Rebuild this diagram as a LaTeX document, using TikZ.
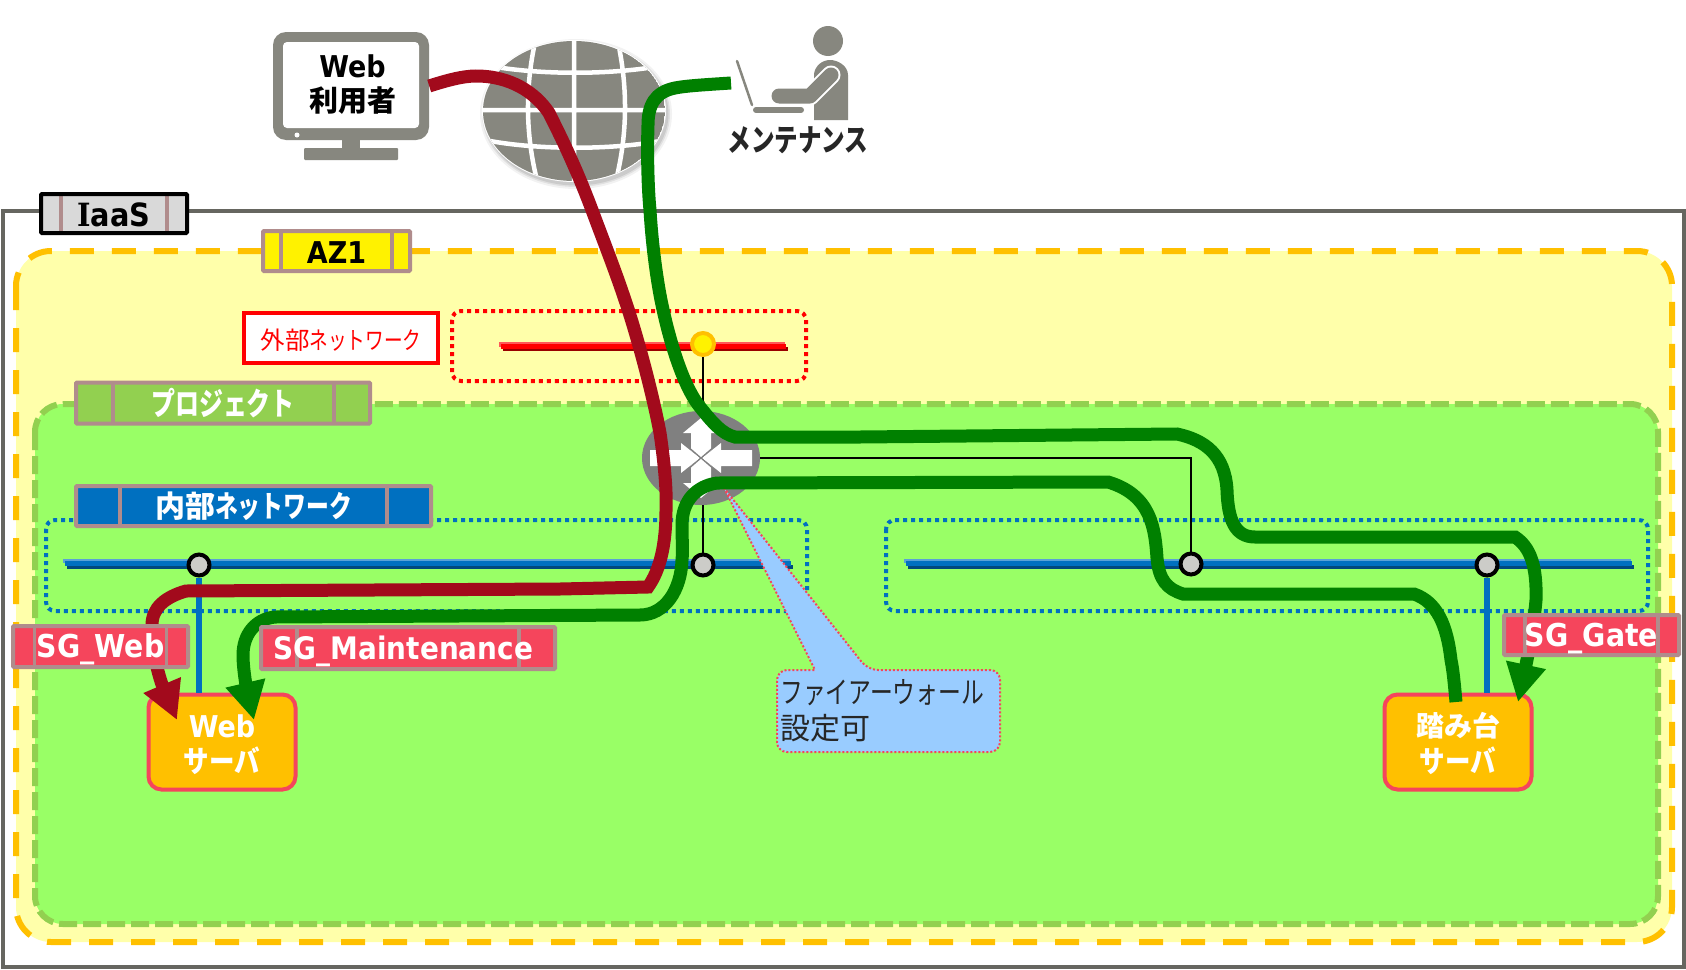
\documentclass[tikz,border=0pt]{standalone}
\usepackage{fontspec}
\setmainfont{DejaVu Sans}[FakeStretch=0.9]
\newfontfamily\slabf{DejaVu Serif}[FakeStretch=0.9]
\newfontfamily\jpf{Noto Sans CJK JP}
\newfontfamily\kanaf{Noto Sans CJK JP}[FakeStretch=0.76]
\newfontfamily\srvf{Noto Sans CJK JP}[FakeStretch=0.85]
\newcommand{\kj}[1]{{\jpf #1}}
\newcommand{\kn}[1]{{\kanaf #1}}
\newcommand{\fsz}[2]{\fontsize{#1}{#2}\selectfont}
\newcommand{\dropby}[2]{\raisebox{-#1pt}[\height][\depth]{#2}}
\usetikzlibrary{shapes.geometric,arrows.meta,calc}
\definecolor{frameGray}{HTML}{666660}
\definecolor{iconGray}{HTML}{87877F}
\definecolor{azFill}{HTML}{FFFFAA}
\definecolor{azLine}{HTML}{FFC000}
\definecolor{prjFill}{HTML}{99FF66}
\definecolor{prjLine}{HTML}{92D050}
\definecolor{tagLine}{HTML}{B08C8C}
\definecolor{netBlue}{HTML}{0070C0}
\definecolor{sgRed}{HTML}{F5455C}
\definecolor{webRed}{HTML}{A20A1C}
\definecolor{mntGreen}{HTML}{008000}
\definecolor{noteBlue}{HTML}{99CCFF}
\definecolor{portGray}{HTML}{CCCCC8}
\tikzset{
  x=1pt,y=-1pt,
  tagbox/.style n args={3}{draw=tagLine,line width=4pt,fill=#1,inner sep=0pt,rounded corners=1pt,
    path picture={
      \draw[tagLine,line width=3.5pt] ([xshift=#2]path picture bounding box.north west) -- ([xshift=#2]path picture bounding box.south west);
      \draw[tagLine,line width=3.5pt] ([xshift=-#3]path picture bounding box.north east) -- ([xshift=-#3]path picture bounding box.south east);
    }},
  labeltext/.style={font=\bfseries\fsz{30}{35},text=white},
  sgtext/.style={font=\bfseries\fsz{31.5}{35},text=white},
  portnode/.style={circle,draw=black,line width=4pt,fill=portGray,minimum size=21pt,inner sep=0pt},
  server/.style={draw=sgRed,line width=4pt,fill=azLine,rounded corners=13pt,minimum width=147pt,minimum height=95pt,
    inner sep=0pt,align=center,font=\bfseries\fsz{30}{35},text=white},
  netzone/.style={line width=4pt,dash pattern=on 4pt off 4pt,rounded corners=9pt},
  webflow/.style={draw=webRed,line width=13pt,-{Triangle[length=38pt,width=38pt]}},
  mntflow/.style={draw=mntGreen,line width=13pt,-{Triangle[length=38pt,width=38pt]}},
  wire/.style={draw=black,line width=1.6pt},
  stub/.style={draw=netBlue,line width=6pt},
}
\begin{document}
\begin{tikzpicture}
\useasboundingbox (0,0) rectangle (1686,969);
\fill[white] (0,0) rectangle (1686,969);

% nested regions
\draw[frameGray,line width=4pt] (3,211) rectangle (1684,967);
\draw[azLine,fill=azFill,line width=6pt,dash pattern=on 24pt off 18pt,rounded corners=35pt] (16,251) rectangle (1672,942);
\draw[prjLine,fill=prjFill,line width=6pt,dash pattern=on 18pt off 6pt,rounded corners=28pt] (35,404) rectangle (1658,924);

% network zones
\draw[netzone,red] (452,311) rectangle (806,381);
\draw[netzone,netBlue] (46,520) rectangle (807,611);
\draw[netzone,netBlue] (886,520) rectangle (1648,611);

% external network bar
\fill[red!65!white] (499,342) rectangle (785,347);
\fill[red!60!black] (503,347) rectangle (788,351);
\fill[red] (501,344.3) rectangle (786,349);

% internal network bars
\foreach \xa/\xb in {63/790,904/1631}{
  \fill[netBlue!65!white] (\xa,559) rectangle (\xb,563);
  \fill[netBlue!65!black] (\xa+4,565) rectangle (\xb+3,569);
  \fill[netBlue] (\xa+2,561) rectangle (\xb+1,566);
}

% globe
\foreach \grow/\op in {5/.05,3/.07,1.5/.09}{
  \fill[black,opacity=\op] (576,114) ellipse ({91+\grow} and {70+\grow});
}
\fill[white] (574,111) ellipse (92 and 71);
\begin{scope}
  \clip (574,111) ellipse (91 and 70);
  \fill[iconGray] (574,111) ellipse (91 and 70);
  \draw[white,line width=4.5pt]
    (536,38) .. controls (525,85) and (525,135) .. (538,184)
    (574,35) -- (574,187)
    (617,38) .. controls (628,85) and (628,135) .. (615,184)
    (490,66) .. controls (540,75) and (610,75) .. (660,66)
    (480,110) -- (670,110)
    (490,141) .. controls (540,150) and (610,150) .. (660,141);
\end{scope}

% monitor with its label
\fill[iconGray] (342,140) rectangle (360,150);
\fill[iconGray,rounded corners=1pt] (304,148) rectangle (398,160);
\node[fill=iconGray,rounded corners=13pt,minimum width=156pt,minimum height=108pt,inner sep=0pt] (mon) at (351,86) {};
\node[fill=white,rounded corners=4pt,minimum width=136pt,minimum height=86pt,inner sep=0pt,align=center,
      font=\bfseries\fsz{30}{34}] (monscreen) at (351,85) {\kern3pt Web\\\kern3pt\kj{\fsz{29}{34}利用者}};
\fill[white] (297,135) circle (2.5);

% maintenance operator
\fill[iconGray] (828,41) circle (15);
\fill[iconGray] (814,98) -- (814,120) -- (848,120) -- (848,75) .. controls (848,66) and (838,60) .. (830,60) .. controls (822,60) and (815,66) .. (814,74) -- cycle;
\draw[white,line width=19pt,line cap=round,line join=round] (831,75) -- (810,96) -- (779,96);
\draw[iconGray,line width=15pt,line cap=round,line join=round] (831,75) -- (810,96) -- (779,96);
\draw[iconGray,line width=2.5pt,line cap=round] (737,61) -- (752,105);
\draw[iconGray,line width=6pt,line cap=round] (756,110) -- (801,110);
\node[font=\bfseries\fsz{31}{34},text=black!85] (mntlabel) at (798,140) {\kn{メンテナンス}};

% router
\node[ellipse,fill=gray,minimum width=118pt,minimum height=94pt,inner sep=0pt] (router) at (701,458) {};
\begin{scope}[shift={(router.center)}]
  \fill[white] (0,-40) -- (18,-25) -- (10,-25) -- (10,-8) -- (0,0) -- (-10,-8) -- (-10,-25) -- (-18,-25) -- cycle;
  \fill[white] (0,40) -- (18,25) -- (10,25) -- (10,8) -- (0,0) -- (-10,8) -- (-10,25) -- (-18,25) -- cycle;
  \fill[white] (-51,-8) -- (-20,-8) -- (-20,-15) -- (-1,0) -- (-20,15) -- (-20,8) -- (-51,8) -- cycle;
  \fill[white] (51,-8) -- (20,-8) -- (20,-15) -- (1,0) -- (20,15) -- (20,8) -- (51,8) -- cycle;
  \draw[gray,line width=1.2pt] (-15,-13) -- (15,13) (-15,13) -- (15,-13);
\end{scope}

% ports
\node[circle,draw=azLine,line width=4pt,fill=yellow,minimum size=22pt,inner sep=0pt] (extport) at (703,344) {};
\node[portnode] (p1) at (199,565) {};
\node[portnode] (p2) at (703,565) {};
\node[portnode] (p3) at (1191,564) {};
\node[portnode] (p4) at (1487,565) {};

% servers
\node[server] (websrv) at (222,742) {\dropby{3}{Web}\\\dropby{3}{{\srvf\fsz{30}{35}サーバ}}};
\node[server] (jumpsrv) at (1458,742) {\dropby{1}{\kj{\fsz{28}{35}踏み台}}\\\dropby{2}{{\srvf\fsz{30}{35}サーバ}}};

% wiring
\draw[wire] (extport.south) -- (router.north -| extport);
\draw[wire] (router.south -| p2) -- (p2.north);
\draw[wire] (router.east) -| (p3.north);
\draw[stub] (p1.south) -- (p1.south |- websrv.north);
\draw[stub] (p4.south) -- (p4.south |- jumpsrv.north);

% firewall note
\path[fill=noteBlue,draw=sgRed,line width=2pt,dash pattern=on 2pt off 2pt]
  (724,488) -- (815,670) [rounded corners=10pt] -- (777,670) -- (777,752) -- (1000,752) -- (1000,670) -- (868,670) [sharp corners] -- cycle;
\node[anchor=west,inner sep=0pt,align=left,text=black!85,font=\fsz{30}{36}] (fwnote) at (780,711) {\kn{ファイアーウォール}\\\kj{設定可}};

% traffic from the web user to the web server
\coordinate (webin) at (177,720);
\draw[webflow] (mon.east) .. controls (445,81) and (462,76) .. (476,76)
  .. controls (510,76) and (535,92) .. (549,113)
  .. controls (560,135) and (575,165) .. (592,210)
  .. controls (605,245) and (615,270) .. (625,300)
  .. controls (637,335) and (653,395) .. (660,433)
  .. controls (664,460) and (667,490) .. (666,510)
  .. controls (666,545) and (660,570) .. (648,587)
  -- (560,589) -- (186,591)
  .. controls (165,597) and (152,608) .. (152,625)
  .. controls (151,650) and (160,680) .. (webin);

% maintenance traffic to the gateway server
\coordinate (mntout) at (731,83);
\coordinate (jumpin) at (1518,702);
\draw[mntflow] (mntout) .. controls (700,85) and (685,86) .. (675,88)
  .. controls (655,92) and (648,105) .. (648,125)
  .. controls (647,155) and (648,190) .. (650,210)
  .. controls (652,245) and (657,280) .. (661,300)
  .. controls (668,335) and (682,385) .. (700,407)
  .. controls (712,422) and (722,434) .. (735,437)
  -- (860,437) -- (1177,434)
  .. controls (1205,440) and (1225,455) .. (1227,490)
  .. controls (1228,520) and (1235,537) .. (1255,537)
  -- (1515,537)
  .. controls (1530,547) and (1537,565) .. (1536,600)
  .. controls (1534,625) and (1527,660) .. (jumpin);

% maintenance traffic from the gateway server to the web server
\coordinate (jumpout) at (1456,702);
\coordinate (webmnt) at (254,720);
\draw[mntflow] (jumpout) .. controls (1454,680) and (1453,670) .. (1451,660)
  .. controls (1447,625) and (1437,602) .. (1414,594)
  -- (1183,594)
  .. controls (1167,589) and (1159,580) .. (1157,558)
  .. controls (1155,530) and (1152,495) .. (1108,482)
  -- (717,483)
  .. controls (697,486) and (682,500) .. (682,525)
  .. controls (682,540) and (683,550) .. (682,560)
  .. controls (681,590) and (665,615) .. (640,615)
  -- (275,617)
  .. controls (255,619) and (243,635) .. (243,655)
  .. controls (243,670) and (247,690) .. (webmnt);

% region and group labels
\node[tagbox={black!15}{20pt}{20pt},draw=black,minimum width=146pt,minimum height=39pt,font=\bfseries\fsz{32}{35},text=black] (iaas) at (114,213.5) {\dropby{1}{{\slabf I}aaS}};
\node[tagbox={yellow}{18pt}{18pt},minimum width=147pt,minimum height=40pt,font=\bfseries\fsz{30}{35},text=black] (az) at (336.5,251) {\dropby{2}{AZ1}};
\node[draw=red,line width=4.5pt,fill=white,minimum width=194pt,minimum height=50pt,inner sep=0pt,text=red] (extlabel) at (341,338) {\fsz{24.5}{30}\dropby{2}{\kj{外部}\kn{ネットワーク}}};
\node[tagbox={prjLine}{37pt}{36pt},minimum width=294pt,minimum height=41pt,labeltext] (prj) at (223,403) {\kn{\fsz{31.5}{35}プロジェクト}};
\node[tagbox={netBlue}{44pt}{44pt},minimum width=355pt,minimum height=40pt,labeltext] (intlabel) at (253.5,506) {\kj{内部}\kn{ネットワーク}};
\node[tagbox={sgRed}{21.5pt}{21.5pt},minimum width=175pt,minimum height=41pt,sgtext] (sgweb) at (100.5,646.5) {\dropby{3}{SG\_Web}};
\node[tagbox={sgRed}{36pt}{36pt},minimum width=294pt,minimum height=42pt,sgtext] (sgmnt) at (408,648) {\dropby{3}{\kern-4.5pt\fsz{31}{35}SG\_Maintenance\kern4.5pt}};
\node[tagbox={sgRed}{21pt}{21pt},minimum width=175pt,minimum height=40pt,sgtext] (sggate) at (1591.5,635) {\dropby{4}{SG\_Gate}};
\end{tikzpicture}
\end{document}
